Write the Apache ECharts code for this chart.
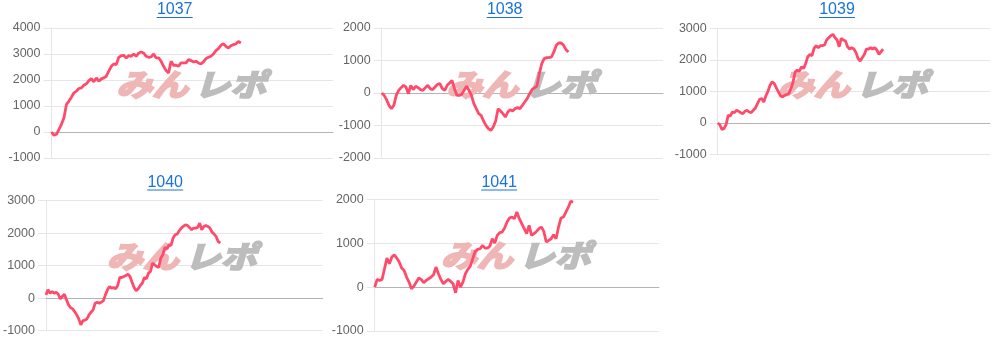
<!DOCTYPE html>
<html><head><meta charset="utf-8">
<script src="https://cdn.jsdelivr.net/npm/echarts@6/dist/echarts.min.js"></script>
<style>html,body{margin:0;padding:0;background:#fff}#c{width:996px;height:342px}</style>
</head><body><div id="c"></div>
<script>
const titles = ['1037', '1038', '1039', '1040', '1041'];
const xSlots = [114, 117, 131, 136, 117];
const yMin = [-1000, -2000, -1000, -1000, -1000];
const yMax = [4000, 2000, 3000, 3000, 2000];

const s1037 = [0,-128,-89,102,294,549,1060,1188,1341,1507,1571,1673,1698,1801,1852,1979,2056,1928,2082,1954,2043,2082,2145,2337,2528,2618,2592,2873,2937,2950,2848,2937,2912,3001,2912,3039,3078,3039,2912,2873,2886,3001,2848,2848,2720,2528,2362,2273,2720,2567,2567,2528,2656,2656,2656,2784,2746,2694,2720,2656,2618,2694,2822,2873,2912,3001,3129,3205,3333,3397,3295,3231,3320,3359,3384,3486,3422];
const s1038 = [0,-72,-205,-380,-482,-380,-72,82,164,236,185,-21,236,103,205,164,103,82,164,236,133,103,185,267,287,133,82,236,308,390,133,-72,-72,-41,82,205,82,-72,-328,-482,-636,-687,-862,-995,-1098,-1149,-1047,-862,-482,-554,-636,-739,-585,-513,-554,-482,-451,-482,-380,-277,-174,-21,103,164,205,595,903,1057,1088,1088,1108,1262,1467,1539,1539,1467,1334,1262];
const s1039 = [0,-53,-201,-180,-53,244,223,350,329,403,371,329,297,371,403,350,329,403,477,615,753,774,668,859,1007,1198,1304,1251,1113,986,859,827,880,901,933,1092,1304,1622,1675,1643,1781,1728,1887,2099,2173,2131,2364,2449,2385,2449,2449,2470,2629,2703,2767,2809,2703,2629,2417,2682,2629,2597,2417,2343,2385,2343,2237,2046,1961,2067,2173,2343,2343,2385,2343,2385,2311,2173,2258,2343];
const s1040 = [103,257,154,205,154,185,123,-21,51,123,-51,-205,-288,-329,-411,-513,-637,-820,-698,-668,-637,-513,-431,-359,-154,-123,-154,-123,-82,103,257,359,308,329,288,390,637,637,668,698,739,668,493,329,226,288,390,462,637,596,770,822,1078,1027,976,945,1232,1335,1561,1520,1643,1623,1849,1952,1972,2075,2157,2208,2259,2239,2177,2105,2157,2157,2177,2311,2105,2208,2239,2208,2157,2033,1972,1900,1746,1695];
const s1041 = [0,175,152,175,418,661,532,684,737,661,570,433,380,228,114,-38,23,114,205,175,99,152,190,228,281,456,304,175,76,129,175,129,76,-129,152,0,114,304,403,479,646,813,859,874,950,889,889,935,1102,1000,1178,1239,1254,1345,1482,1573,1596,1558,1710,1558,1444,1330,1216,1406,1178,1216,1269,1330,1368,1269,1026,1064,1102,1193,1102,1368,1573,1596,1710,1824,1953,1938];
const seriesData = [s1037, s1038, s1039, s1040, s1041];

const grids = [
  {left: 51.5, top: 28, width: 281.5, height: 130},
  {left: 381.7, top: 28, width: 281.3, height: 130},
  {left: 717.7, top: 28.3, width: 272.3, height: 126.3},
  {left: 42.7, top: 200.7, width: 280, height: 130},
  {left: 374.7, top: 199.3, width: 284.3, height: 131.7}
];
const titlePos = [[174.7, 10], [504.7, 10], [837, 10], [165.2, 182.5], [499.2, 182.5]];

const chart = echarts.init(document.getElementById('c'), null, {renderer: 'canvas'});
const xAxis = [], yAxis = [], series = [], graphic = [];
const LINE = '#ff4b6b', TITLE = '#1a73d8';
const WM_FONT = 'italic bold 36px "Noto Sans CJK JP", sans-serif';

grids.forEach((g, i) => {
  const cats = Array.from({length: xSlots[i]}, (_, k) => String(k));
  xAxis.push({
    gridIndex: i, type: 'category', data: cats, boundaryGap: false,
    axisLine: {show: true, onZero: true, lineStyle: {color: '#b4b4b4', width: 1}},
    axisTick: {show: false}, axisLabel: {show: false}, splitLine: {show: false}
  });
  yAxis.push({
    gridIndex: i, type: 'value', min: yMin[i], max: yMax[i], interval: 1000,
    axisLine: {show: true, lineStyle: {color: '#e6e6e6'}},
    axisTick: {show: true, length: 8, lineStyle: {color: '#e6e6e6'}},
    axisLabel: {color: '#666', fontSize: 12.5, margin: 11, fontFamily: '"Liberation Sans", Arial, sans-serif',
      formatter: v => String(v)},
    splitLine: {show: true, lineStyle: {color: '#e6e6e6', width: 1}}
  });
  series.push({
    type: 'line', xAxisIndex: i, yAxisIndex: i, data: seriesData[i],
    showSymbol: false, symbol: 'none', smooth: false, z: 5,
    lineStyle: {color: LINE, width: 2.8}, itemStyle: {color: LINE}
  });
  const cx = g.left + g.width / 2, cy = g.top + 56;
  graphic.push({
    type: 'text', x: cx - 4, y: cy, z: 1, silent: true, scaleY: 0.85, originX: 0, originY: 0,
    style: {text: 'みん', fill: '#efb6b6', stroke: '#efb6b6', lineWidth: 2.5, font: WM_FONT, textAlign: 'right', textVerticalAlign: 'middle'}
  });
  graphic.push({
    type: 'text', x: cx + 2, y: cy, z: 1, silent: true, scaleY: 0.85,
    style: {text: 'レポ', fill: '#bdbdbd', stroke: '#bdbdbd', lineWidth: 2.5, font: WM_FONT, textAlign: 'left', textVerticalAlign: 'middle'}
  });
  const [tx, ty] = titlePos[i];
  graphic.push({
    type: 'text', x: tx, y: ty, z: 10, silent: true,
    style: {text: titles[i], fill: TITLE, font: '16px "Liberation Sans", Arial, sans-serif', textAlign: 'center', textVerticalAlign: 'middle'}
  });
  graphic.push({
    type: 'line', z: 10, silent: true,
    shape: {x1: tx - 18, y1: ty + 7.5, x2: tx + 18, y2: ty + 7.5},
    style: {stroke: TITLE, lineWidth: 1}
  });
});

chart.setOption({
  animation: false,
  backgroundColor: '#fff',
  grid: grids.map(g => Object.assign({containLabel: false}, g)),
  xAxis, yAxis, series, graphic
});
</script></body></html>
